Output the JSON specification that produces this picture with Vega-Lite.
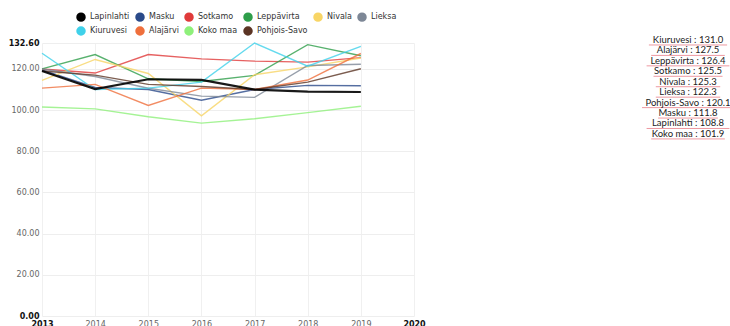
{
  "$schema": "https://vega.github.io/schema/vega-lite/v6.json",
  "background": "white",
  "padding": {"left": 8, "top": 12, "right": 0, "bottom": 0},
  "config": {
    "view": {"stroke": null},
    "font": "DejaVu Sans",
    "concat": {"spacing": 224}
  },
  "datasets": {
    "series": [
      {"year": 2013, "name": "Lapinlahti", "value": 119.0},
      {"year": 2014, "name": "Lapinlahti", "value": 110.2},
      {"year": 2015, "name": "Lapinlahti", "value": 115.0},
      {"year": 2016, "name": "Lapinlahti", "value": 114.7},
      {"year": 2017, "name": "Lapinlahti", "value": 110.0},
      {"year": 2018, "name": "Lapinlahti", "value": 109.0},
      {"year": 2019, "name": "Lapinlahti", "value": 108.8},
      {"year": 2013, "name": "Masku", "value": 119.5},
      {"year": 2014, "name": "Masku", "value": 111.0},
      {"year": 2015, "name": "Masku", "value": 110.0},
      {"year": 2016, "name": "Masku", "value": 104.8},
      {"year": 2017, "name": "Masku", "value": 110.0},
      {"year": 2018, "name": "Masku", "value": 112.0},
      {"year": 2019, "name": "Masku", "value": 111.8},
      {"year": 2013, "name": "Sotkamo", "value": 120.0},
      {"year": 2014, "name": "Sotkamo", "value": 118.0},
      {"year": 2015, "name": "Sotkamo", "value": 127.0},
      {"year": 2016, "name": "Sotkamo", "value": 124.9},
      {"year": 2017, "name": "Sotkamo", "value": 123.8},
      {"year": 2018, "name": "Sotkamo", "value": 123.3},
      {"year": 2019, "name": "Sotkamo", "value": 125.5},
      {"year": 2013, "name": "Leppävirta", "value": 120.0},
      {"year": 2014, "name": "Leppävirta", "value": 127.0},
      {"year": 2015, "name": "Leppävirta", "value": 115.2},
      {"year": 2016, "name": "Leppävirta", "value": 113.9},
      {"year": 2017, "name": "Leppävirta", "value": 116.9},
      {"year": 2018, "name": "Leppävirta", "value": 131.8},
      {"year": 2019, "name": "Leppävirta", "value": 126.4},
      {"year": 2013, "name": "Nivala", "value": 114.4},
      {"year": 2014, "name": "Nivala", "value": 124.6},
      {"year": 2015, "name": "Nivala", "value": 117.8},
      {"year": 2016, "name": "Nivala", "value": 97.2},
      {"year": 2017, "name": "Nivala", "value": 117.2},
      {"year": 2018, "name": "Nivala", "value": 121.0},
      {"year": 2019, "name": "Nivala", "value": 125.3},
      {"year": 2013, "name": "Lieksa", "value": 120.0},
      {"year": 2014, "name": "Lieksa", "value": 116.3},
      {"year": 2015, "name": "Lieksa", "value": 110.6},
      {"year": 2016, "name": "Lieksa", "value": 106.8},
      {"year": 2017, "name": "Lieksa", "value": 106.2},
      {"year": 2018, "name": "Lieksa", "value": 121.7},
      {"year": 2019, "name": "Lieksa", "value": 122.3},
      {"year": 2013, "name": "Kiuruvesi", "value": 127.6},
      {"year": 2014, "name": "Kiuruvesi", "value": 110.0},
      {"year": 2015, "name": "Kiuruvesi", "value": 110.7},
      {"year": 2016, "name": "Kiuruvesi", "value": 113.6},
      {"year": 2017, "name": "Kiuruvesi", "value": 132.6},
      {"year": 2018, "name": "Kiuruvesi", "value": 121.3},
      {"year": 2019, "name": "Kiuruvesi", "value": 131.0},
      {"year": 2013, "name": "Alajärvi", "value": 110.7},
      {"year": 2014, "name": "Alajärvi", "value": 112.5},
      {"year": 2015, "name": "Alajärvi", "value": 102.3},
      {"year": 2016, "name": "Alajärvi", "value": 110.7},
      {"year": 2017, "name": "Alajärvi", "value": 110.0},
      {"year": 2018, "name": "Alajärvi", "value": 114.6},
      {"year": 2019, "name": "Alajärvi", "value": 127.5},
      {"year": 2013, "name": "Koko maa", "value": 101.5},
      {"year": 2014, "name": "Koko maa", "value": 100.6},
      {"year": 2015, "name": "Koko maa", "value": 96.8},
      {"year": 2016, "name": "Koko maa", "value": 93.7},
      {"year": 2017, "name": "Koko maa", "value": 95.8},
      {"year": 2018, "name": "Koko maa", "value": 98.8},
      {"year": 2019, "name": "Koko maa", "value": 101.9},
      {"year": 2013, "name": "Pohjois-Savo", "value": 119.0},
      {"year": 2014, "name": "Pohjois-Savo", "value": 117.0},
      {"year": 2015, "name": "Pohjois-Savo", "value": 112.5},
      {"year": 2016, "name": "Pohjois-Savo", "value": 111.5},
      {"year": 2017, "name": "Pohjois-Savo", "value": 110.0},
      {"year": 2018, "name": "Pohjois-Savo", "value": 113.6},
      {"year": 2019, "name": "Pohjois-Savo", "value": 120.1}
    ],
    "ranking": [
      {"rank": 1, "name": "Kiuruvesi", "label": "Kiuruvesi : 131.0"},
      {"rank": 2, "name": "Alajärvi", "label": "Alajärvi : 127.5"},
      {"rank": 3, "name": "Leppävirta", "label": "Leppävirta : 126.4"},
      {"rank": 4, "name": "Sotkamo", "label": "Sotkamo : 125.5"},
      {"rank": 5, "name": "Nivala", "label": "Nivala : 125.3"},
      {"rank": 6, "name": "Lieksa", "label": "Lieksa : 122.3"},
      {"rank": 7, "name": "Pohjois-Savo", "label": "Pohjois-Savo : 120.1"},
      {"rank": 8, "name": "Masku", "label": "Masku : 111.8"},
      {"rank": 9, "name": "Lapinlahti", "label": "Lapinlahti : 108.8"},
      {"rank": 10, "name": "Koko maa", "label": "Koko maa : 101.9"}
    ]
  },
  "hconcat": [
    {
      "width": 372,
      "height": 273,
      "data": {"name": "series"},
      "encoding": {
        "x": {
          "field": "year", "type": "quantitative",
          "scale": {"domain": [2013, 2020], "nice": false, "zero": false},
          "axis": {
            "title": null, "values": [2013, 2014, 2015, 2016, 2017, 2018, 2019, 2020],
            "format": "d", "domain": false, "ticks": false, "labelPadding": 4,
            "labelFontSize": 8, "labelFont": "DejaVu Sans",
            "labelColor": {"condition": {"test": "datum.value == 2013 || datum.value == 2020", "value": "#111"}, "value": "#666"},
            "labelFontWeight": {"condition": {"test": "datum.value == 2013 || datum.value == 2020", "value": "bold"}, "value": "normal"},
            "gridColor": "#f0f0f0", "gridWidth": 1, "labelFlush": false, "labelOverlap": false
          }
        },
        "y": {
          "field": "value", "type": "quantitative",
          "scale": {"domain": [0, 132.6], "nice": false},
          "axis": {
            "title": null, "values": [0, 20, 40, 60, 80, 100, 120, 132.6],
            "format": ".2f", "domain": false, "ticks": false, "labelPadding": 3,
            "labelFontSize": 8, "labelFont": "DejaVu Sans",
            "labelColor": {"condition": {"test": "datum.value == 0 || datum.value == 132.6", "value": "#111"}, "value": "#666"},
            "labelFontWeight": {"condition": {"test": "datum.value == 0 || datum.value == 132.6", "value": "bold"}, "value": "normal"},
            "gridColor": "#eeeeee", "gridWidth": 1, "labelOverlap": false
          }
        },
        "color": {
          "field": "name", "type": "nominal",
          "scale": {
            "domain": ["Lapinlahti", "Masku", "Sotkamo", "Leppävirta", "Nivala", "Lieksa", "Kiuruvesi", "Alajärvi", "Koko maa", "Pohjois-Savo"],
            "range": ["#000000", "#2a4a8a", "#e03a3a", "#2e9e4a", "#f8d565", "#7d8796", "#3fd1ea", "#ef6f3c", "#8ef07a", "#5b3424"]
          },
          "legend": {
            "title": null, "orient": "none", "legendX": 34, "legendY": -31,
            "direction": "horizontal", "columns": 6, "symbolType": "circle",
            "symbolSize": 20, "symbolStrokeWidth": 5, "symbolOpacity": 1,
            "labelFontSize": 8, "labelFont": "DejaVu Sans", "labelColor": "#333",
            "columnPadding": 5, "rowPadding": 4, "labelOffset": 4, "padding": 0,
            "encode": {"symbols": {"update": {"strokeJoin": {"value": "round"}, "strokeCap": {"value": "round"}}}}
          }
        }
      },
      "layer": [
        {
          "transform": [{"filter": "datum.name !== 'Lapinlahti'"}],
          "mark": {"type": "line", "strokeWidth": 1.4, "opacity": 0.8}
        },
        {
          "transform": [{"filter": "datum.name === 'Lapinlahti'"}],
          "mark": {"type": "line", "strokeWidth": 2.2, "opacity": 0.9}
        }
      ]
    },
    {
      "width": 100,
      "height": 273,
      "data": {"name": "ranking"},
      "transform": [
        {"calculate": "0.5 - length(datum.label) * 0.023", "as": "u1"},
        {"calculate": "0.5 + length(datum.label) * 0.023", "as": "u2"}
      ],
      "encoding": {
        "y": {"field": "rank", "type": "quantitative", "scale": {"domain": [1.29, 27.44], "reverse": true, "nice": false, "zero": false}, "axis": null}
      },
      "layer": [
        {
          "mark": {"type": "rule", "color": "#e8808a", "strokeWidth": 1, "yOffset": 5, "opacity": 0.8},
          "encoding": {
            "x": {"field": "u1", "type": "quantitative", "scale": {"domain": [0, 1], "nice": false}, "axis": null},
            "x2": {"field": "u2"}
          }
        },
        {
          "mark": {"type": "text", "font": "Lato", "fontSize": 9.5, "color": "#222", "align": "center", "baseline": "middle"},
          "encoding": {
            "x": {"datum": 0.5, "type": "quantitative", "scale": {"domain": [0, 1], "nice": false}, "axis": null},
            "text": {"field": "label"},
            "fontWeight": {"condition": {"test": "datum.name === 'Lapinlahti'", "value": "bold"}, "value": "normal"}
          }
        }
      ]
    }
  ],
  "resolve": {"scale": {"x": "independent", "y": "independent"}},
  "bounds": "flush"
}
